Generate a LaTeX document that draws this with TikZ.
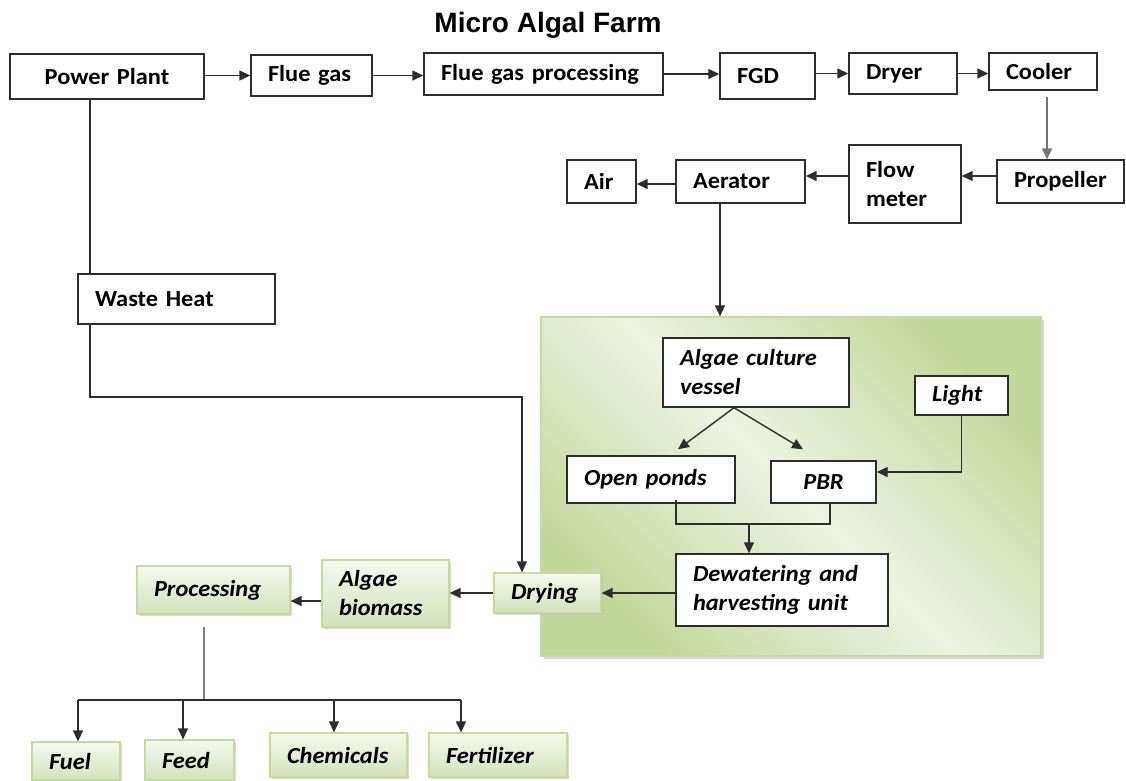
\documentclass[tikz,border=0pt]{standalone}
\usepackage{fontspec}
\setmainfont{Carlito}[FakeStretch=1.06]
\newfontfamily\titlefont{Liberation Sans}
\usepackage{tikz}
\usetikzlibrary{arrows.meta,positioning,shadows,calc}
\definecolor{linegray}{RGB}{45,45,45}
\definecolor{panelgreen}{RGB}{196,215,155}
\definecolor{panellight}{RGB}{237,243,226}
\definecolor{boxtop}{RGB}{245,249,238}
\definecolor{boxgreen}{RGB}{212,226,186}
\definecolor{boxedge}{RGB}{198,217,160}

\begin{document}
\begin{tikzpicture}[x=1pt, y=-1pt,
    box/.style={rectangle, draw=linegray, fill=white, line width=1.4pt, align=left, inner xsep=17pt, inner ysep=0pt, font=\fontsize{23}{29}\selectfont\bfseries},
    ibox/.style={box, font=\fontsize{23}{29}\selectfont\bfseries\itshape},
    gbox/.style={ibox, draw=boxedge, line width=1.2pt, top color=boxtop, bottom color=boxgreen, drop shadow={shadow xshift=2pt, shadow yshift=-2pt, fill=black!30, opacity=0.5}},
    arrow/.style={-{Triangle[length=11pt,width=10pt]}, line width=1.4pt, linegray},
    link/.style={line width=1.4pt, linegray}
  ]
  \useasboundingbox (0,0) rectangle (1126,780);

  \node[font=\titlefont\bfseries\fontsize{28}{34}\selectfont] (title) at (548,25) {Micro Algal Farm};

  % gas line
  \node[box, align=center, text width=160pt, minimum height=45pt] (pp) at (107,76.5) {Power Plant};
  \node[box, text width=87pt, minimum height=41pt] (fg) at (311.5,75.5) {Flue gas};
  \node[box, text width=205pt, minimum height=42pt] (fgp) at (543.5,74) {Flue gas processing};
  \node[box, text width=61pt, minimum height=46pt] (fgd) at (767.5,76) {FGD};
  \node[box, text width=74pt, minimum height=41pt] (dry) at (903,73.5) {Dryer};
  \node[box, text width=74pt, minimum height=37pt] (cool) at (1043,71.5) {Cooler};
  \node[box, text width=93pt, minimum height=43pt] (prop) at (1060.5,181.5) {Propeller};
  \node[box, text width=78pt, minimum height=78pt] (flow) at (905,184) {Flow\\meter};
  \node[box, text width=95pt, minimum height=43pt] (aer) at (740.5,181.5) {Aerator};
  \node[box, text width=35pt, minimum height=43pt] (air) at (601.5,181.5) {Air};
  \node[box, text width=163pt, minimum height=50pt] (waste) at (176.5,299) {Waste Heat};

  % farm
  \node[draw=boxedge, line width=1.2pt, minimum width=500pt, minimum height=339pt,
        top color=panelgreen, bottom color=panelgreen, middle color=panellight, shading angle=-45,
        drop shadow={shadow xshift=3pt, shadow yshift=-3pt, fill=black!30, opacity=0.5}] (panel) at (791,486.5) {};
  \node[ibox, text width=152pt, minimum height=69pt] (acv) at (756,372.5) {Algae culture\\vessel};
  \node[ibox, text width=59pt, minimum height=39pt] (light) at (961.5,395.5) {Light};
  \node[ibox, text width=134pt, minimum height=47pt] (open) at (651,479.5) {Open ponds};
  \node[ibox, align=center, text width=71pt, minimum height=42pt] (pbr) at (823.5,482) {PBR};
  \node[ibox, text width=178pt, minimum height=72pt] (dew) at (782,590) {Dewatering and\\harvesting unit};

  % products
  \node[gbox, text width=73pt, minimum height=40pt] (drying) at (547.5,593) {Drying};
  \node[gbox, text width=93pt, minimum height=67pt] (bio) at (385.5,593.5) {Algae\\biomass};
  \node[gbox, text width=119pt, minimum height=48pt] (proc) at (213.5,590) {Processing};
  \node[gbox, text width=54pt, minimum height=38pt] (fuel) at (76,761) {Fuel};
  \node[gbox, text width=55pt, minimum height=40pt] (feed) at (189.5,760) {Feed};
  \node[gbox, text width=103pt, minimum height=44pt] (chem) at (338.5,755) {Chemicals};
  \node[gbox, text width=104pt, minimum height=44pt] (fert) at (498,755) {Fertilizer};

  \draw[arrow] (pp.east |- fg) -- (fg.west);
  \draw[arrow] (fg.east) -- (fg.east -| fgp.west);
  \draw[arrow] (fgp.east) -- (fgp.east -| fgd.west);
  \draw[arrow] (fgd.east |- dry) -- (dry.west);
  \draw[arrow] (dry.east) -- (dry.east -| cool.west);

  \coordinate (c1) at ($(cool.south)+(4,6)$);
  \draw[arrow, black!55] (c1) -- (c1 |- prop.north);
  \coordinate (c2) at ($(prop.west)+(0,-5.5)$);
  \draw[arrow] (c2) -- (c2 -| flow.east);
  \coordinate (c3) at ($(flow.west)+(0,-8)$);
  \draw[arrow] (c3) -- (c3 -| aer.east);
  \coordinate (c4) at ($(aer.west)+(0,2.5)$);
  \draw[arrow] (c4) -- (c4 -| air.east);
  \coordinate (c5) at ($(aer.south)+(-20.5,0)$);
  \draw[arrow] (c5) -- (c5 |- panel.north);

  % waste heat route
  \coordinate (heat) at ($(pp.south)+(-17,0)$);
  \coordinate (bend) at (522,397);
  \draw[link] (heat) -- (heat |- waste.north);
  \draw[arrow] (heat |- waste.south) |- (bend) -- (bend |- drying.north);

  \coordinate (fork) at ($(acv.south)+(-22,0)$);
  \draw[arrow] (fork) -- ($(open.north)+(27,-6)$);
  \draw[arrow] (fork) -- ($(pbr.north)+(-20.5,-11)$);
  \draw[arrow] (light.south) |- ($(pbr.east)+(0,-10)$);
  \coordinate (join) at (749,524);
  \draw[link] ($(open.south)+(25,-4)$) |- (join) -| ($(pbr.south)+(6.5,0)$);
  \draw[arrow] (join) -- (join |- dew.north);

  \draw[arrow] (dew.west |- drying) -- (drying.east);
  \draw[arrow] (drying.west) -- (drying.west -| bio.east);
  \coordinate (c6) at ($(bio.west)+(0,7.5)$);
  \draw[arrow] (c6) -- (c6 -| proc.east);

  \coordinate (hub) at (204,700);
  \coordinate (stem) at (hub |- proc.south);
  \draw[link, black!50] ($(stem)+(0,12)$) -- (hub);
  \draw[link] (78,700) -- (461,700);
  \foreach \n/\x in {fuel/78, feed/183, chem/334, fert/461}{
    \coordinate (bx) at (\x,700);
    \draw[arrow] (bx) -- (bx |- \n.north);
  }
\end{tikzpicture}
\end{document}
